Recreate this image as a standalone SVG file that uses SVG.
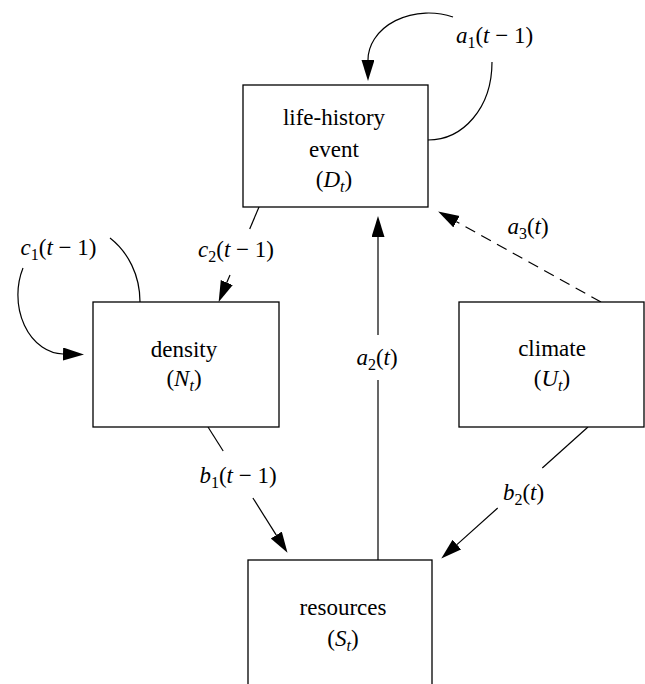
<svg xmlns="http://www.w3.org/2000/svg" width="645" height="684" viewBox="0 0 645 684">
<defs>
<marker id="ah" markerUnits="userSpaceOnUse" markerWidth="22" markerHeight="14" refX="0" refY="6.5" orient="auto" viewBox="0 0 22 14">
<path d="M0,0 L21,6.5 L0,13 z" fill="#000" stroke="none"/>
</marker>
</defs>

<g id="connectors" fill="none" stroke="#000" stroke-width="1.2">
<path d="M428,140 C463,140 492,108 492,62"/>
<path d="M453,17 A60.6,47 0 0 0 368,60" marker-end="url(#ah)"/>
<path d="M140,302 C140,275 128,252 110,238"/>
<path d="M23,268 A46,59 0 0 0 63,354" marker-end="url(#ah)"/>
<path d="M259,207 L249.7,229"/>
<path d="M230,275 L226.8,282.6" marker-end="url(#ah)"/>
<path d="M208,427 L223.2,451"/>
<path d="M252.9,498 L276.3,535.1" marker-end="url(#ah)"/>
<path d="M588,427 L542.3,468"/>
<path d="M497.7,508 L456.9,544.6" marker-end="url(#ah)"/>
<path d="M378,560 L378,380"/>
<path d="M378,335 L378,237" marker-end="url(#ah)"/>
<path d="M601,302 L456.5,221.7" stroke-dasharray="11 7" marker-end="url(#ah)"/>
</g>

<g id="connector-labels" font-family="Liberation Serif" font-size="23" text-anchor="middle" fill="#000">
<text x="494.5" y="43"><tspan font-style="italic">a</tspan><tspan font-size="16" dy="5">1</tspan><tspan dy="-5">(</tspan><tspan font-style="italic">t</tspan> − 1)</text>
<text x="58.5" y="255"><tspan font-style="italic">c</tspan><tspan font-size="16" dy="5">1</tspan><tspan dy="-5">(</tspan><tspan font-style="italic">t</tspan> − 1)</text>
<text x="236" y="257"><tspan font-style="italic">c</tspan><tspan font-size="16" dy="5">2</tspan><tspan dy="-5">(</tspan><tspan font-style="italic">t</tspan> − 1)</text>
<text x="377" y="365"><tspan font-style="italic">a</tspan><tspan font-size="16" dy="5">2</tspan><tspan dy="-5">(</tspan><tspan font-style="italic">t</tspan>)</text>
<text x="528" y="234"><tspan font-style="italic">a</tspan><tspan font-size="16" dy="5">3</tspan><tspan dy="-5">(</tspan><tspan font-style="italic">t</tspan>)</text>
<text x="238" y="483"><tspan font-style="italic">b</tspan><tspan font-size="16" dy="5">1</tspan><tspan dy="-5">(</tspan><tspan font-style="italic">t</tspan> − 1)</text>
<text x="523.5" y="500"><tspan font-style="italic">b</tspan><tspan font-size="16" dy="5">2</tspan><tspan dy="-5">(</tspan><tspan font-style="italic">t</tspan>)</text>
</g>

<g id="node-life-history" font-family="Liberation Serif" font-size="23" text-anchor="middle">
<rect x="243" y="85" width="185" height="122" fill="#fff" stroke="#000" stroke-width="1.3"/>
<text x="334" y="125">life-history</text>
<text x="334" y="157">event</text>
<text x="334" y="187">(<tspan font-style="italic">D</tspan><tspan font-style="italic" font-size="16" dy="5">t</tspan><tspan dy="-5">)</tspan></text>
</g>

<g id="node-density" font-family="Liberation Serif" font-size="23" text-anchor="middle">
<rect x="93" y="302" width="186" height="125" fill="#fff" stroke="#000" stroke-width="1.3"/>
<text x="184" y="357">density</text>
<text x="184" y="386">(<tspan font-style="italic">N</tspan><tspan font-style="italic" font-size="16" dy="5">t</tspan><tspan dy="-5">)</tspan></text>
</g>

<g id="node-climate" font-family="Liberation Serif" font-size="23" text-anchor="middle">
<rect x="459" y="302" width="185" height="125" fill="#fff" stroke="#000" stroke-width="1.3"/>
<text x="552" y="356">climate</text>
<text x="552" y="386">(<tspan font-style="italic">U</tspan><tspan font-style="italic" font-size="16" dy="5">t</tspan><tspan dy="-5">)</tspan></text>
</g>

<g id="node-resources" font-family="Liberation Serif" font-size="23" text-anchor="middle">
<rect x="248" y="560" width="184" height="140" fill="#fff" stroke="#000" stroke-width="1.3"/>
<text x="343" y="615">resources</text>
<text x="343" y="646">(<tspan font-style="italic">S</tspan><tspan font-style="italic" font-size="16" dy="5">t</tspan><tspan dy="-5">)</tspan></text>
</g>
</svg>
